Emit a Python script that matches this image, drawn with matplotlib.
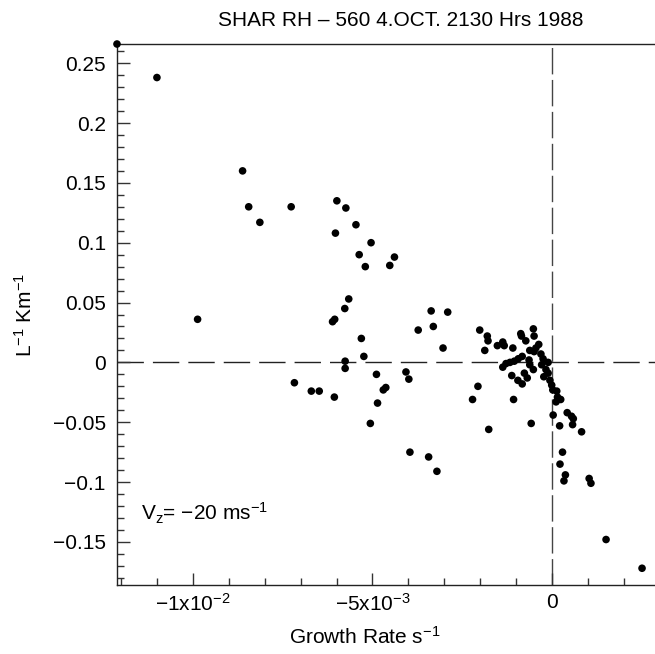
import matplotlib
matplotlib.use("Agg")
import matplotlib.pyplot as plt
import numpy as np
from matplotlib.ticker import MultipleLocator

plt.rcParams["font.family"] = ["Liberation Sans", "DejaVu Sans"]
plt.rcParams["mathtext.fontset"] = "custom"
plt.rcParams["mathtext.rm"] = "Liberation Sans"
plt.rcParams["mathtext.it"] = "Liberation Sans"
plt.rcParams["mathtext.default"] = "regular"

# Growth rate (units of 1e-3 s^-1) and inverse scale length (km^-1)
growth_e3 = [
    -12.1, -10.99, -8.61, -8.44, -8.13, -7.26, -9.86, -5.99, -5.74, -5.46,
    -6.03, -5.04, -5.37, -5.20, -4.52, -4.39, -5.66, -5.77, -6.05, -6.11,
    -5.31, -5.24, -5.76, -5.76, -7.17, -6.70, -6.48, -6.06, -4.89, -4.70,
    -4.63, -4.86, -5.06, -4.07, -3.99, -3.96, -3.44, -3.21, -3.73, -3.37,
    -3.31, -2.91, -3.04, -2.02, -1.81, -1.79, -1.88, -1.53, -1.38, -1.34,
    -1.10, -0.88, -0.86, -0.74, -0.53, -0.51, -0.38, -0.46, -0.51, -0.32,
    -0.26, -0.12, -0.63, -0.65, -0.84, -0.95, -1.06, -1.18, -1.29, -1.38,
    -0.63, -0.53, -0.78, -0.70, -1.13, -0.96, -0.84, -0.30, -0.18, -0.24,
    -0.12, -0.07, -0.02, 0.01, 0.12, 0.14, 0.23, 0.10, 0.02, 0.41,
    0.53, 0.58, 0.56, 0.81, 0.20, -2.07, -2.22, -1.08, -1.77, -0.59,
    0.28, 0.21, 0.36, 0.32, 1.02, 1.07, 1.49, 2.49,
]
inv_L = [
    0.266, 0.238, 0.160, 0.130, 0.117, 0.130, 0.036, 0.135, 0.129, 0.115,
    0.108, 0.100, 0.090, 0.080, 0.081, 0.088, 0.053, 0.045, 0.036, 0.034,
    0.020, 0.005, 0.001, -0.005, -0.017, -0.024, -0.024, -0.029, -0.010, -0.023,
    -0.021, -0.034, -0.051, -0.008, -0.014, -0.075, -0.079, -0.091, 0.027, 0.043,
    0.030, 0.042, 0.012, 0.027, 0.022, 0.018, 0.010, 0.014, 0.017, 0.014,
    0.012, 0.024, 0.022, 0.018, 0.028, 0.022, 0.015, 0.012, 0.009, 0.007,
    0.003, 0.000, 0.010, 0.002, 0.005, 0.003, 0.001, 0.000, -0.001, -0.004,
    -0.002, -0.006, -0.009, -0.013, -0.011, -0.015, -0.018, -0.002, -0.006, -0.012,
    -0.009, -0.015, -0.019, -0.023, -0.024, -0.029, -0.031, -0.033, -0.044, -0.042,
    -0.045, -0.047, -0.052, -0.058, -0.053, -0.020, -0.031, -0.031, -0.056, -0.051,
    -0.075, -0.085, -0.094, -0.099, -0.097, -0.101, -0.148, -0.172,
]

x_ticks = [-0.01, -0.005, 0.0]
x_labels = ["\u22121x10$^{\u22122}$", "\u22125x10$^{\u22123}$", "0"]
y_ticks = [0.25, 0.2, 0.15, 0.1, 0.05, 0.0, -0.05, -0.1, -0.15]
y_labels = ["0.25", "0.2", "0.15", "0.1", "0.05", "0", "\u22120.05", "\u22120.1", "\u22120.15"]

fs = 15

fig = plt.figure(figsize=(6.55, 6.54), dpi=100)
ax = fig.add_axes([0.1786, 0.1055, 0.8214, 0.8272])

gx = np.array(growth_e3) * 1e-3
ax.scatter(gx, inv_L, s=30, color="black", edgecolors="none", zorder=3, clip_on=False)

# zero reference lines
ax.axhline(0, color="#222222", lw=1.0, dashes=(19, 6.5), zorder=1)
ax.axvline(0, color="#444444", lw=1.0, dashes=(19, 4), zorder=1)

ax.set_xlim(-0.0121, 0.00285)
ax.set_ylim(-0.186, 0.266)

ax.spines["right"].set_visible(False)
for s in ["left", "bottom", "top"]:
    ax.spines[s].set_linewidth(1.0)
    ax.spines[s].set_color("#222222")

ax.set_xticks(x_ticks, x_labels, fontsize=fs)
ax.set_yticks(y_ticks, y_labels, fontsize=fs)
ax.xaxis.set_minor_locator(MultipleLocator(0.001))
ax.yaxis.set_minor_locator(MultipleLocator(0.01))
ax.tick_params(which="major", direction="in", length=9, width=1.0, color="#333333", pad=8)
ax.tick_params(axis="x", which="major", pad=6)
ax.tick_params(which="minor", direction="in", length=5, width=1.0, color="#333333")
ax.tick_params(top=False, right=False, which="both")

ax.set_xlabel("Growth Rate s$^{\u22121}$", fontsize=fs)
ax.xaxis.set_label_coords(0.46, -0.075)
ax.set_ylabel("L$^{\u22121}$ Km$^{\u22121}$", fontsize=fs)
ax.yaxis.set_label_coords(-0.15, 0.5)

ax.text(-0.01143, -0.1317, "V$_z$= \u221220 ms$^{\u22121}$", fontsize=fs, va="baseline", ha="left")

fig.text(401 / 655, 1 - 20 / 654, "SHAR RH \u2013 560 4.OCT. 2130 Hrs 1988",
         fontsize=fs, ha="center", va="center")

plt.savefig("out.png", dpi=100)
